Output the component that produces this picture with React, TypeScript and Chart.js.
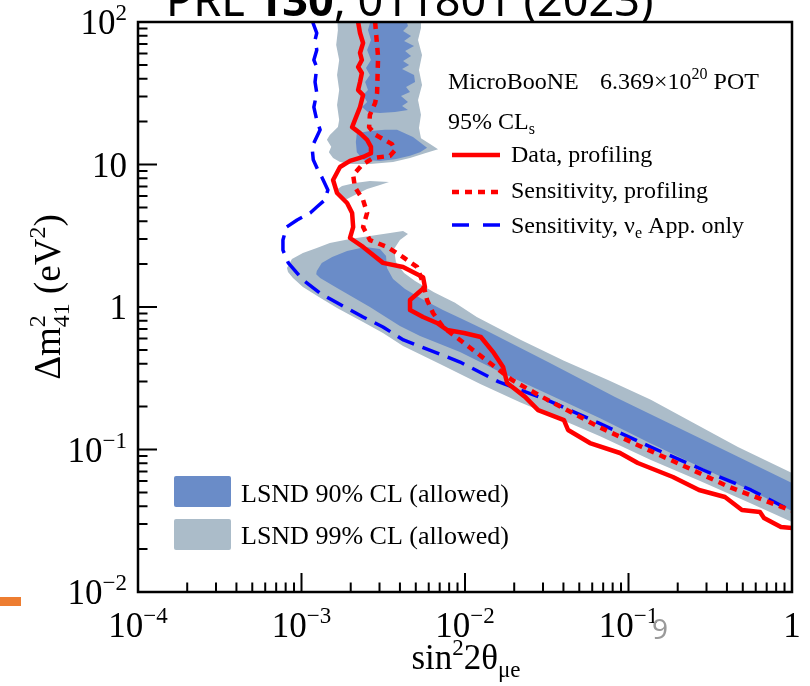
import React, { useEffect, useRef } from "react";
import { Chart, registerables } from "chart.js";

Chart.register(...registerables);

type P = [number, number];

// ---------- DATA (sin^2 2θ, Δm^2 in eV^2) ----------
const lsnd99Column: P[] = [
  [1.65e-3, 110], [1.67e-3, 87.8], [1.63e-3, 69], [1.70e-3, 54.1], [1.65e-3, 42.5],
  [1.70e-3, 33.3], [1.65e-3, 26.2], [1.70e-3, 20.5], [1.67e-3, 18.3], [1.49e-3, 16.1],
  [1.43e-3, 14.9], [1.52e-3, 13.3], [1.47e-3, 12.2], [1.56e-3, 11.1], [1.72e-3, 10.4],
  [1.98e-3, 10.1], [2.62e-3, 10.1], [3.63e-3, 10.4], [4.61e-3, 11.1], [5.69e-3, 12.0],
  [6.84e-3, 12.8], [6.11e-3, 13.9], [5.38e-3, 15.3], [5.23e-3, 18.0], [5.38e-3, 22.3],
  [5.16e-3, 28.4], [5.46e-3, 36.1], [5.23e-3, 46.0], [5.46e-3, 58.7], [5.16e-3, 74.8],
  [5.38e-3, 90.8], [5.38e-3, 110],
];

const lsnd99Lens: P[] = [
  [1.63e-3, 6.62], [1.77e-3, 7.07], [2.12e-3, 7.42], [2.62e-3, 7.66], [3.43e-3, 7.54],
  [3.02e-3, 7.18], [2.52e-3, 6.73], [2.12e-3, 6.11], [1.90e-3, 5.73], [1.72e-3, 5.82],
];

const lsnd99Band: P[] = [
  [8.15e-4, 1.88], [8.74e-4, 2.17], [1.02e-3, 2.39], [1.24e-3, 2.59], [1.49e-3, 2.81],
  [1.98e-3, 3.0], [2.62e-3, 3.15], [3.48e-3, 3.31], [4.18e-3, 3.41], [4.48e-3, 3.25],
  [4.0e-3, 2.95], [3.68e-3, 2.55], [3.78e-3, 2.07], [4.24e-3, 1.73], [4.95e-3, 1.52],
  [6.46e-3, 1.27], [8.69e-3, 1.07], [1.18e-2, 0.851], [2.2e-2, 0.587], [4.03e-2, 0.42],
  [7.49e-2, 0.307], [0.137, 0.223], [0.252, 0.153], [0.467, 0.104], [1.0, 0.0684],
  [1.29, 0.0591], [1.29, 0.0272], [1.0, 0.031], [0.553, 0.0421], [0.274, 0.0601],
  [0.137, 0.0844], [6.7e-2, 0.124], [3.81e-2, 0.164], [2.17e-2, 0.215], [1.24e-2, 0.288],
  [7.03e-3, 0.398], [4.18e-3, 0.532], [3.15e-3, 0.657], [2.38e-3, 0.785], [1.65e-3, 0.984],
  [1.3e-3, 1.16], [1.02e-3, 1.38], [8.87e-4, 1.6], [8.27e-4, 1.76],
];

const lsnd90Column: P[] = [
  [4.30e-3, 110], [4.48e-3, 93.7], [4.18e-3, 86.5], [4.68e-3, 79.8], [4.24e-3, 73.6],
  [4.88e-3, 67.9], [4.30e-3, 62.6], [4.68e-3, 57.7], [4.18e-3, 53.2], [4.55e-3, 49.9],
  [4.12e-3, 46.8], [4.88e-3, 42.5], [4.95e-3, 37.9], [4.36e-3, 35.0], [4.61e-3, 32.3],
  [4.06e-3, 30.2], [4.48e-3, 27.5], [4.12e-3, 25.7], [4.48e-3, 24.1], [3.73e-3, 23.4],
  [3.02e-3, 23.0], [2.55e-3, 23.4], [2.34e-3, 25.3], [2.52e-3, 27.5], [2.38e-3, 30.7],
  [2.55e-3, 33.3], [2.45e-3, 37.9], [2.62e-3, 42.5], [2.48e-3, 47.6], [2.66e-3, 54.1],
  [2.52e-3, 63.6], [2.66e-3, 74.8], [2.55e-3, 87.9], [2.70e-3, 110],
];

const lsnd90Blob: P[] = [
  [2.18e-3, 16.6], [2.62e-3, 17.2], [3.24e-3, 17.5], [3.84e-3, 17.5], [4.81e-3, 15.6],
  [5.86e-3, 13.1], [5.31e-3, 12.2], [4.61e-3, 11.5], [3.73e-3, 10.9], [3.02e-3, 10.6],
  [2.38e-3, 10.8], [2.18e-3, 12.2], [2.15e-3, 14.4],
];

const lsnd90Band: P[] = [
  [1.24e-3, 1.79], [1.33e-3, 2.04], [1.54e-3, 2.24], [1.90e-3, 2.47], [2.45e-3, 2.64],
  [3.02e-3, 2.55], [3.29e-3, 2.28], [3.33e-3, 1.88], [3.63e-3, 1.57], [4.30e-3, 1.34],
  [5.46e-3, 1.14], [7.33e-3, 0.953], [9.32e-3, 0.837], [1.33e-2, 0.69], [3.31e-2, 0.405],
  [8.27e-2, 0.234], [0.286, 0.117], [1.0, 0.0582], [1.29, 0.0512], [1.29, 0.0331],
  [1.0, 0.037], [0.553, 0.052], [0.274, 0.0754], [0.135, 0.111], [6.7e-2, 0.166],
  [3.31e-2, 0.241], [1.64e-2, 0.35], [9.32e-3, 0.483], [5.31e-3, 0.626], [4.0e-3, 0.736],
  [2.62e-3, 1.0], [1.65e-3, 1.36], [1.30e-3, 1.6], [1.23e-3, 1.7],
];

const sensAppOnly: P[] = [
  [1.17e-3, 100], [1.24e-3, 83.7], [1.21e-3, 74.8], [1.24e-3, 63.6], [1.19e-3, 54.1],
  [1.24e-3, 48.3], [1.21e-3, 37.9], [1.24e-3, 31.8], [1.19e-3, 25.3], [1.24e-3, 20.5],
  [1.30e-3, 17.5], [1.16e-3, 13.3], [1.18e-3, 10.8], [1.26e-3, 9.15], [1.33e-3, 8.17],
  [1.45e-3, 6.62], [1.39e-3, 5.64], [1.24e-3, 5.03], [1.13e-3, 4.57], [9.4e-4, 4.08],
  [8.1e-4, 3.64], [7.7e-4, 2.95], [7.7e-4, 2.51], [8.3e-4, 2.04], [1.02e-3, 1.55],
  [1.30e-3, 1.25], [1.65e-3, 1.07], [2.38e-3, 0.851], [3.15e-3, 0.724], [4.2e-3, 0.587],
  [9.32e-3, 0.411], [1.61e-2, 0.298], [3.17e-2, 0.223], [6.6e-2, 0.153], [0.137, 0.104],
  [0.286, 0.0718], [0.561, 0.052], [0.97, 0.0376], [1.12, 0.035],
];

const sensProfiling: P[] = [
  [2.82e-3, 100], [2.94e-3, 56.8], [2.90e-3, 31.8], [2.82e-3, 27.0], [2.62e-3, 22.3],
  [2.59e-3, 18.3], [2.85e-3, 16.1], [3.58e-3, 13.9], [3.73e-3, 12.6], [3.48e-3, 11.5],
  [2.74e-3, 11.1], [2.34e-3, 9.92], [2.07e-3, 8.44], [2.12e-3, 6.95], [2.38e-3, 5.64],
  [2.52e-3, 4.57], [2.38e-3, 3.64], [2.62e-3, 2.95], [3.33e-3, 2.64], [4.18e-3, 2.24],
  [5.09e-3, 1.91], [5.54e-3, 1.47], [5.86e-3, 1.12], [6.37e-3, 0.908], [7.33e-3, 0.724],
  [1.06e-2, 0.524], [1.53e-2, 0.379], [1.94e-2, 0.307], [2.96e-2, 0.234], [6.6e-2, 0.144],
  [0.121, 0.104], [0.225, 0.0754], [0.412, 0.0546], [0.97, 0.0376], [1.12, 0.0358],
];

const dataProfiling: P[] = [
  [2.22e-3, 100], [2.28e-3, 83.7], [2.38e-3, 71.2], [2.28e-3, 60.6], [2.34e-3, 54.1],
  [2.22e-3, 48.3], [2.34e-3, 43.9], [2.28e-3, 37.9], [2.22e-3, 33.3], [2.38e-3, 30.7],
  [2.28e-3, 25.3], [2.12e-3, 20.5], [2.04e-3, 18.3], [2.28e-3, 16.6], [2.52e-3, 14.9],
  [2.66e-3, 13.3], [2.66e-3, 12.0], [2.38e-3, 11.3], [1.98e-3, 10.6], [1.72e-3, 9.6],
  [1.56e-3, 7.78], [1.65e-3, 6.31], [1.90e-3, 5.37], [2.04e-3, 4.57], [2.07e-3, 3.64],
  [1.98e-3, 3.05], [2.38e-3, 2.64], [3.15e-3, 2.04], [4.18e-3, 1.91], [5.54e-3, 1.62],
  [5.69e-3, 1.38], [4.61e-3, 1.12], [4.61e-3, 0.953], [5.54e-3, 0.851], [6.74e-3, 0.772],
  [7.76e-3, 0.69], [9.86e-3, 0.657], [1.25e-2, 0.616], [1.50e-2, 0.476], [1.71e-2, 0.379],
  [1.81e-2, 0.293], [2.33e-2, 0.234], [2.80e-2, 0.189], [4.03e-2, 0.161], [4.27e-2, 0.137],
  [5.81e-2, 0.111], [8.87e-2, 0.0945], [0.114, 0.0804], [0.187, 0.0641], [0.27, 0.052],
  [0.389, 0.0464], [0.494, 0.0376], [0.637, 0.0364], [0.674, 0.0331], [0.856, 0.0286],
  [1.0, 0.0281], [1.12, 0.028],
];

// ticks
const xDecades = [-4, -3, -2, -1];
const yDecades = [-2, -1, 0, 1];
const xTickValues = [1e-4, 1e-3, 1e-2, 1e-1, 1];
const xTickLabels: [string, string][] = [["10", "−4"], ["10", "−3"], ["10", "−2"], ["10", "−1"], ["1", ""]];
const yTickValues = [0.01, 0.1, 1, 10, 100];
const yTickLabels: [string, string][] = [["10", "−2"], ["10", "−1"], ["1", ""], ["10", ""], ["10", "2"]];

// ---------- STYLE ----------
const C90 = "#6a8cc8";
const C99 = "#abbcc9";
const RED = "#ff0000";
const BLUE = "#0000ff";
const SERIF = '"Liberation Serif", "Times New Roman", serif';
const SANS = '"Noto Sans", "Open Sans", sans-serif';

type Run = { t: string; size: number; dy?: number; weight?: string; family?: string; stay?: boolean };

function drawRuns(ctx: CanvasRenderingContext2D, runs: Run[], x: number, y: number, align: "left" | "center" | "right" = "left") {
  const widths = runs.map((r) => {
    ctx.font = `${r.weight || "normal"} ${r.size}px ${r.family || SERIF}`;
    return ctx.measureText(r.t).width;
  });
  let total = 0;
  runs.forEach((r, i) => { if (!r.stay) total += widths[i]; });
  let cx = align === "left" ? x : align === "center" ? x - total / 2 : x - total;
  ctx.textAlign = "left";
  ctx.textBaseline = "alphabetic";
  runs.forEach((r, i) => {
    ctx.font = `${r.weight || "normal"} ${r.size}px ${r.family || SERIF}`;
    ctx.fillText(r.t, cx, y + (r.dy || 0));
    if (!r.stay) cx += widths[i];
  });
}

const decorPlugin = {
  id: "decor",
  afterDraw(chart: any) {
    const ctx: CanvasRenderingContext2D = chart.ctx;
    const { left, right, top, bottom } = chart.chartArea;
    const xs = chart.scales.x;
    const ys = chart.scales.y;
    ctx.save();
    ctx.fillStyle = "#000";
    ctx.strokeStyle = "#000";
    // inward ticks
    ctx.lineWidth = 2;
    ctx.beginPath();
    xDecades.forEach((d) => {
      for (let m = 1; m <= 9; m++) {
        const px = xs.getPixelForValue(m * Math.pow(10, d));
        const len = m === 1 ? 19 : 9.5;
        ctx.moveTo(px, bottom);
        ctx.lineTo(px, bottom - len);
      }
    });
    yDecades.forEach((d) => {
      for (let m = 1; m <= 9; m++) {
        const py = ys.getPixelForValue(m * Math.pow(10, d));
        const len = m === 1 ? 19 : 9.5;
        ctx.moveTo(left, py);
        ctx.lineTo(left + len, py);
      }
    });
    ctx.stroke();
    // frame
    ctx.lineWidth = 2.5;
    ctx.strokeRect(left, top, right - left, bottom - top);

    // tick labels
    xTickValues.forEach((v, i) => {
      const px = xs.getPixelForValue(v);
      const [m, e] = xTickLabels[i];
      const runs: Run[] = [{ t: m, size: 35 }];
      if (e) runs.push({ t: e, size: 23, dy: -14 });
      drawRuns(ctx, runs, px, bottom + 45, "center");
    });
    yTickValues.forEach((v, i) => {
      const py = ys.getPixelForValue(v);
      const [m, e] = yTickLabels[i];
      const runs: Run[] = [{ t: m, size: 35 }];
      if (e) runs.push({ t: e, size: 23, dy: -14 });
      drawRuns(ctx, runs, left - 11, py + 12, "right");
    });

    // axis titles
    drawRuns(ctx, [
      { t: "sin", size: 35 }, { t: "2", size: 23, dy: -14 }, { t: "2θ", size: 35 }, { t: "μe", size: 23, dy: 8 },
    ], 466, 669, "center");
    ctx.save();
    ctx.translate(60, 297);
    ctx.rotate(-Math.PI / 2);
    drawRuns(ctx, [
      { t: "Δm", size: 37 }, { t: "2", size: 24, dy: -15, stay: true }, { t: "41", size: 24, dy: 9 },
      { t: " (eV", size: 37 }, { t: "2", size: 24, dy: -15 }, { t: ")", size: 37 },
    ], 0, 0, "center");
    ctx.restore();

    // top-right annotation & legend
    drawRuns(ctx, [{ t: "MicroBooNE", size: 24 }], 448, 89);
    drawRuns(ctx, [{ t: "6.369×10", size: 24 }, { t: "20", size: 16, dy: -10 }, { t: " POT", size: 24 }], 600, 89);
    drawRuns(ctx, [{ t: "95% CL", size: 24 }, { t: "s", size: 16, dy: 5 }], 448, 129);
    drawRuns(ctx, [{ t: "Data, profiling", size: 24 }], 511, 162);
    drawRuns(ctx, [{ t: "Sensitivity, profiling", size: 24 }], 511, 198);
    drawRuns(ctx, [{ t: "Sensitivity, ν", size: 24 }, { t: "e", size: 16, dy: 5 }, { t: " App. only", size: 24 }], 511, 233);

    ctx.lineCap = "butt";
    ctx.strokeStyle = RED;
    ctx.lineWidth = 4.5;
    ctx.setLineDash([]);
    ctx.beginPath(); ctx.moveTo(452, 155); ctx.lineTo(500, 155); ctx.stroke();
    ctx.setLineDash([7, 6]);
    ctx.beginPath(); ctx.moveTo(452, 192); ctx.lineTo(500, 192); ctx.stroke();
    ctx.strokeStyle = BLUE;
    ctx.lineWidth = 3.5;
    ctx.setLineDash([17, 14]);
    ctx.beginPath(); ctx.moveTo(452, 225); ctx.lineTo(500, 225); ctx.stroke();
    ctx.setLineDash([]);

    // LSND legend
    ctx.fillStyle = C90;
    ctx.beginPath(); (ctx as any).roundRect(174, 476, 57, 31, 2); ctx.fill();
    ctx.fillStyle = C99;
    ctx.beginPath(); (ctx as any).roundRect(174, 519, 57, 31, 2); ctx.fill();
    ctx.fillStyle = "#000";
    drawRuns(ctx, [{ t: "LSND 90% CL (allowed)", size: 26 }], 241, 502);
    drawRuns(ctx, [{ t: "LSND 99% CL (allowed)", size: 26 }], 241, 544);

    // slide decorations
    drawRuns(ctx, [
      { t: "PRL ", size: 45, family: SANS }, { t: "130", size: 45, family: SANS, weight: "bold" },
      { t: ", 011801 (2023)", size: 45, family: SANS },
    ], 166, 16);
    ctx.fillStyle = "#9a9a9a";
    drawRuns(ctx, [{ t: "9", size: 28, family: SANS }], 652, 639);
    ctx.fillStyle = "#ed7d31";
    ctx.fillRect(0, 597, 21, 9);
    ctx.restore();
  },
};

const toXY = (a: P[]) => a.map(([x, y]) => ({ x, y }));

function area(data: P[], color: string, order: number) {
  return {
    data: toXY(data), backgroundColor: color, borderColor: "rgba(0,0,0,0)", borderWidth: 0,
    fill: "shape", pointRadius: 0, pointHoverRadius: 0, tension: 0, clip: 0, order,
  };
}
function curve(data: P[], color: string, width: number, dash: number[], order: number) {
  return {
    data: toXY(data), borderColor: color, backgroundColor: color, borderWidth: width, borderDash: dash,
    borderJoinStyle: "round", borderCapStyle: "butt", fill: false, pointRadius: 0, pointHoverRadius: 0,
    tension: 0, clip: 0, order,
  };
}

export default function App() {
  const ref = useRef<HTMLCanvasElement>(null);
  useEffect(() => {
    if (!ref.current) return;
    const chart = new Chart(ref.current, {
      type: "line",
      data: {
        datasets: [
          curve(dataProfiling, RED, 4.5, [], 1),
          curve(sensProfiling, RED, 4.5, [7, 6], 2),
          curve(sensAppOnly, BLUE, 3.5, [18, 9], 3),
          area(lsnd90Column, C90, 9),
          area(lsnd90Blob, C90, 9),
          area(lsnd90Band, C90, 9),
          area(lsnd99Column, C99, 10),
          area(lsnd99Lens, C99, 10),
          area(lsnd99Band, C99, 10),
        ] as any,
      },
      options: {
        responsive: false,
        maintainAspectRatio: false,
        animation: false,
        events: [],
        layout: { padding: { left: 138, top: 22, right: 18, bottom: 94 } },
        scales: {
          x: { type: "logarithmic", min: 1e-4, max: 1, display: false },
          y: { type: "logarithmic", min: 0.01, max: 100, display: false },
        },
        plugins: { legend: { display: false }, tooltip: { enabled: false }, title: { display: false } },
      },
      plugins: [decorPlugin],
    } as any);
    return () => chart.destroy();
  }, []);
  return (
    <div style={{ position: "fixed", left: 0, top: 0, width: 810, height: 686, background: "#fff", overflow: "hidden" }}>
      <canvas ref={ref} width={810} height={686} style={{ display: "block" }} />
    </div>
  );
}
